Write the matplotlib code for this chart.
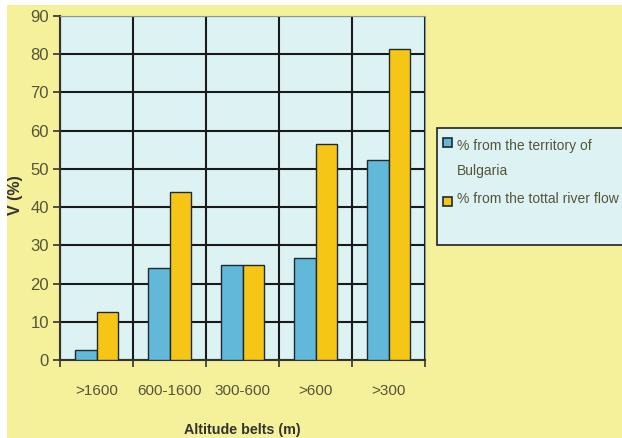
import numpy as np
import matplotlib.pyplot as plt
import matplotlib.patches as mpatches

belts = [">1600", "600-1600", "300-600", ">600", ">300"]
territory = [2.6, 24.0, 24.8, 26.6, 52.2]
river_flow = [12.5, 43.9, 24.8, 56.5, 81.3]
yticks = [0, 10, 20, 30, 40, 50, 60, 70, 80, 90]
labels = ["% from the territory of\nBulgaria", "% from the tottal river flow"]

blue = "#62b8d9"
yellow = "#f6c617"
txt = "#555538"
edge = "#1e2a30"

plt.rcParams['font.family'] = ['Liberation Sans', 'DejaVu Sans']

fig = plt.figure(figsize=(6.22, 4.38), dpi=100, facecolor="white")
# yellow panel behind everything
fig.patches.append(mpatches.Rectangle((7 / 622, 0), 1, 1 - 5 / 438, transform=fig.transFigure,
                                      facecolor="#f5f09a", edgecolor="none", zorder=-5))

ax = fig.add_axes([60 / 622, 1 - 360 / 438, 365 / 622, 344 / 438])
ax.set_facecolor("#ddf3f3")

x = np.arange(len(belts))
w = 0.29
ax.bar(x - w / 2, territory, w, color=blue, edgecolor=edge, linewidth=1, zorder=3)
ax.bar(x + w / 2, river_flow, w, color=yellow, edgecolor=edge, linewidth=1, zorder=3)

ax.set_xlim(-0.5, len(belts) - 0.5)
ax.set_ylim(0, 90)
ax.set_yticks(yticks)
ax.set_xticks(x)
ax.set_xticklabels(belts)
ax.set_xticks(np.arange(-0.5, len(belts)), minor=True)

ax.grid(True, axis="y", color="#1a1a1a", linewidth=1.5, zorder=1)
ax.grid(True, axis="x", which="minor", color="#1a1a1a", linewidth=1.5, zorder=1)
ax.tick_params(axis="x", which="major", length=0, pad=17, labelsize=11, labelcolor=txt)
ax.tick_params(axis="x", which="minor", length=5, width=1.2, color="#333333")
ax.tick_params(axis="y", length=5, width=1.2, color="#333333", labelsize=12, labelcolor=txt, pad=3)

for side in ["top", "right"]:
    ax.spines[side].set_color("#8a9a9a")
ax.spines["left"].set_color("#333333")
ax.spines["bottom"].set_color("#333333")
ax.spines["left"].set_linewidth(1.5)
ax.spines["bottom"].set_linewidth(1.5)

ax.set_ylabel("V (%)", fontsize=11.5, fontweight="bold", color="#333333")
ax.yaxis.set_label_coords(-0.1, 0.48)
ax.set_xlabel("Altitude belts (m)", fontsize=10.3, fontweight="bold", color="#333333", labelpad=18)

# legend box running off the right edge
fig.patches.append(mpatches.Rectangle((437 / 622, 1 - 245 / 438), 0.5, 117 / 438,
                                      transform=fig.transFigure, facecolor="#ddf3f3",
                                      edgecolor="#222222", linewidth=1.2, zorder=1))
for color, label, ybox, ytext in zip([blue, yellow], labels, [138, 197], [139, 192]):
    fig.patches.append(mpatches.Rectangle((443 / 622, 1 - (ybox + 9) / 438), 9 / 622, 9 / 438,
                                          transform=fig.transFigure, facecolor=color,
                                          edgecolor=edge, linewidth=1.2, zorder=2))
    fig.text(457 / 622, 1 - ytext / 438, label, fontsize=10, color=txt,
             va="top", ha="left", linespacing=2.0, zorder=3)

fig.savefig("out.png", dpi=100, facecolor="white")
